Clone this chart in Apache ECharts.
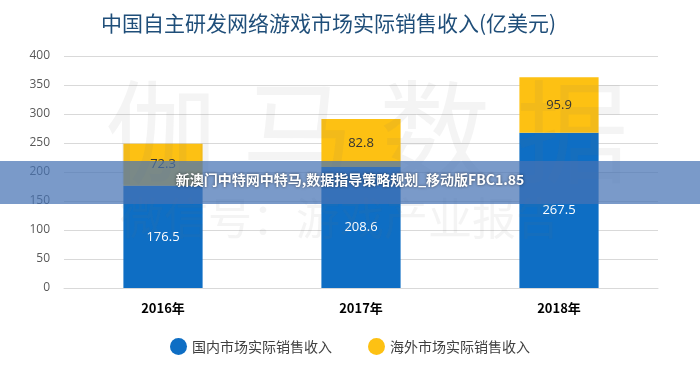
<!DOCTYPE html>
<html><head><meta charset="utf-8">
<script src="https://cdn.jsdelivr.net/npm/echarts@6/dist/echarts.min.js"></script>
<style>html,body{margin:0;padding:0;background:#fff}#c{width:700px;height:366px}</style>
</head><body><div id="c"></div>
<script>
const categories = ['2016年', '2017年', '2018年'];
const domestic = [176.5, 208.6, 267.5];
const overseas = [72.3, 82.8, 95.9];
const seriesNames = ['国内市场实际销售收入', '海外市场实际销售收入'];
const yTicks = {min: 0, max: 400, interval: 50};

const chart = echarts.init(document.getElementById('c'));
chart.setOption({
  animation: false,
  title: {
    text: '中国自主研发网络游戏市场实际销售收入(亿美元)',
    left: 96, top: 8,
    textStyle: {color: '#1f4e79', fontSize: 21, fontWeight: 'normal', fontFamily: 'Noto Sans CJK SC'}
  },
  legend: {
    bottom: 6, left: 'center', itemGap: 36, icon: 'circle', itemWidth: 17, itemHeight: 17,
    textStyle: {color: '#404040', fontSize: 14, fontFamily: 'Noto Sans CJK SC'},
    data: seriesNames
  },
  grid: {left: 64, right: 42, top: 56, bottom: 78},
  xAxis: {
    type: 'category', data: categories,
    axisLine: {lineStyle: {color: '#d9d9d9'}}, axisTick: {show: false},
    axisLabel: {color: '#000', fontWeight: 'bold', fontSize: 13, margin: 14, fontFamily: 'Noto Sans CJK SC'}
  },
  yAxis: {
    type: 'value', min: yTicks.min, max: yTicks.max, interval: yTicks.interval,
    axisLine: {show: false}, axisTick: {show: false},
    axisLabel: {color: '#595959', fontSize: 12, margin: 14, fontFamily: 'Open Sans'},
    splitLine: {lineStyle: {color: '#d9d9d9'}}
  },
  series: [
    {name: seriesNames[0], type: 'bar', stack: 's', data: domestic, barWidth: '40%',
     itemStyle: {color: '#0e6ec4'},
     label: {show: true, position: 'inside', color: '#fff', fontSize: 13, fontFamily: 'Open Sans'}},
    {name: seriesNames[1], type: 'bar', stack: 's', data: overseas, barWidth: '40%',
     itemStyle: {color: '#fdc113'},
     label: {show: true, position: 'inside', color: '#333', fontSize: 13, fontFamily: 'Open Sans'}}
  ],
  graphic: [
    {type: 'text', left: 105, top: 76, z: 50, silent: true,
     style: {text: '伽 马 数 据', fontSize: 112, fontFamily: 'Noto Sans CJK SC', fill: 'rgba(120,120,120,0.08)'}},
    {type: 'text', left: 120, top: 196, z: 50, silent: true,
     style: {text: '微信号：游戏产业报告', fontSize: 44, fontFamily: 'Noto Sans CJK SC', fill: 'rgba(120,120,120,0.08)'}},
    {type: 'rect', left: 0, top: 161, z: 100, silent: true,
     shape: {width: 700, height: 43}, style: {fill: 'rgba(70,115,180,0.72)'}},
    {type: 'text', left: 'center', top: 173, z: 101, silent: true,
     style: {text: '新澳门中特网中特马,数据指导策略规划_移动版FBC1.85', fontSize: 14, fontWeight: 'bold',
             fontFamily: 'Noto Sans CJK SC', fill: '#fff', textShadowColor: 'rgba(0,0,0,0.6)', textShadowBlur: 3}}
  ]
});
</script></body></html>
